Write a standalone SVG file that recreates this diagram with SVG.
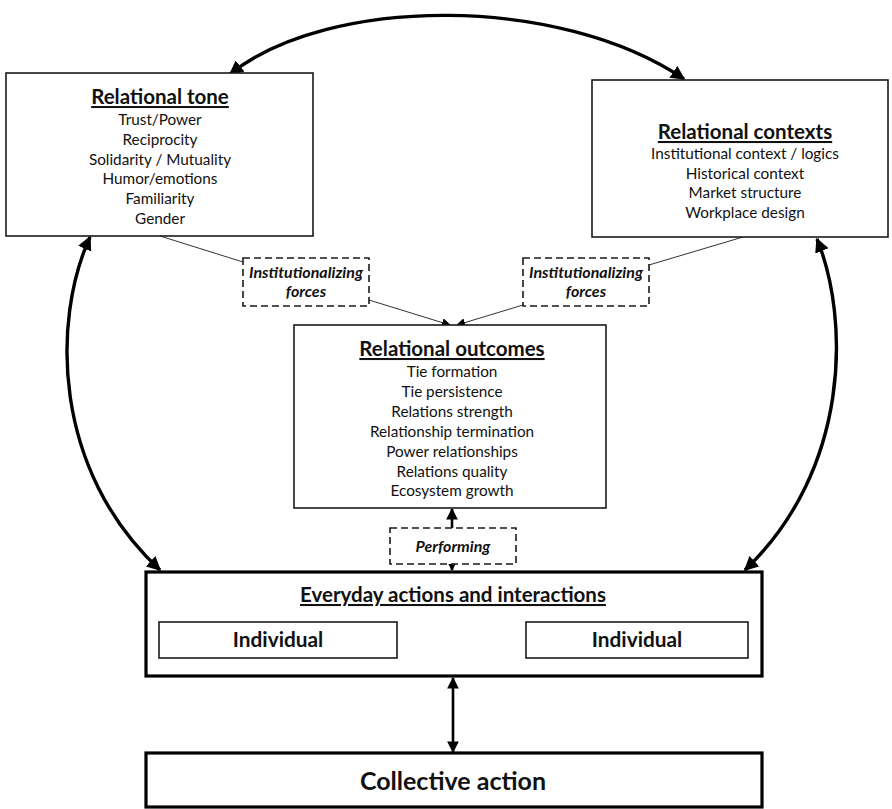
<svg xmlns="http://www.w3.org/2000/svg" width="892" height="809" viewBox="0 0 892 809">
<defs>
<style>
.box{fill:#fff;stroke:#1a1a1a;stroke-width:1.6}
.thick{fill:#fff;stroke:#000;stroke-width:3.2}
.dash{fill:#fff;stroke:#1a1a1a;stroke-width:1.6;stroke-dasharray:7 4}
text{font-family:Lato,"Liberation Sans",sans-serif;fill:#111;text-anchor:middle}
.t{font-size:20.5px;font-weight:bold;text-decoration:underline}
.b{font-size:15.3px}
.i{font-size:16px;font-weight:bold;font-style:italic}
.ind{font-size:20.8px;font-weight:bold}
.big{fill:none;stroke:#000;stroke-width:3.4}
.thin{fill:none;stroke:#333;stroke-width:1}
.med{fill:none;stroke:#000;stroke-width:2.6}
</style>
<marker id="ah" viewBox="0 0 10 10" refX="9" refY="5" markerWidth="4.2" markerHeight="4.2" orient="auto-start-reverse" markerUnits="strokeWidth"><path d="M0,0L10,5L0,10z" fill="#000"/></marker>
<marker id="am" viewBox="0 0 10 10" refX="9" refY="5" markerWidth="4.5" markerHeight="4.5" orient="auto-start-reverse" markerUnits="strokeWidth"><path d="M0,0L10,5L0,10z" fill="#000"/></marker>
<marker id="as" viewBox="0 0 10 10" refX="9" refY="5" markerWidth="9" markerHeight="9" orient="auto-start-reverse" markerUnits="strokeWidth"><path d="M0,0L10,5L0,10z" fill="#000"/></marker>
</defs>

<g id="connectors">
<path class="big" d="M230,74 C330,-5 560,-5 684,79" marker-start="url(#ah)" marker-end="url(#ah)"/>
<path class="big" d="M90,237 C52,320 52,470 160,570" marker-start="url(#ah)" marker-end="url(#ah)"/>
<path class="big" d="M817,239 C850,320 850,470 745,570" marker-start="url(#ah)" marker-end="url(#ah)"/>
<path class="thin" d="M160,236 L243,262"/>
<path class="thin" d="M743,237 L649,265"/>
<path class="thin" d="M369,300 L450,325" marker-end="url(#as)"/>
<path class="thin" d="M523,305 L457,325" marker-end="url(#as)"/>
<path class="med" d="M452,528 L452,509" marker-end="url(#am)"/>
<path class="med" d="M452,563 L452,570" marker-end="url(#am)"/>
<path class="med" d="M453,678 L453,752" marker-start="url(#am)" marker-end="url(#am)"/>
<path class="thin" d="M398,640 L525,640" marker-start="url(#as)" marker-end="url(#as)"/>
</g>

<g id="relational-tone">
<rect class="box" x="6" y="73" width="307" height="163"/>
<text class="t" x="160" y="104">Relational tone</text>
<text class="b" x="160" y="125">Trust/Power</text>
<text class="b" x="160" y="145">Reciprocity</text>
<text class="b" x="160" y="165">Solidarity / Mutuality</text>
<text class="b" x="160" y="184">Humor/emotions</text>
<text class="b" x="160" y="204">Familiarity</text>
<text class="b" x="160" y="224">Gender</text>
</g>

<g id="relational-contexts">
<rect class="box" x="592" y="80" width="296" height="157"/>
<text class="t" x="745" y="139">Relational contexts</text>
<text class="b" x="745" y="159">Institutional context / logics</text>
<text class="b" x="745" y="179">Historical context</text>
<text class="b" x="745" y="198">Market structure</text>
<text class="b" x="745" y="218">Workplace design</text>
</g>

<g id="inst-forces-left">
<rect class="dash" x="243" y="258" width="126" height="48"/>
<text class="i" x="306" y="278">Institutionalizing</text>
<text class="i" x="306" y="297">forces</text>
</g>

<g id="inst-forces-right">
<rect class="dash" x="523" y="258" width="126" height="48"/>
<text class="i" x="586" y="278">Institutionalizing</text>
<text class="i" x="586" y="297">forces</text>
</g>

<g id="relational-outcomes">
<rect class="box" x="294" y="325" width="312" height="183"/>
<text class="t" x="452" y="356">Relational outcomes</text>
<text class="b" x="452" y="377">Tie formation</text>
<text class="b" x="452" y="397">Tie persistence</text>
<text class="b" x="452" y="417">Relations strength</text>
<text class="b" x="452" y="437">Relationship termination</text>
<text class="b" x="452" y="457">Power relationships</text>
<text class="b" x="452" y="477">Relations quality</text>
<text class="b" x="452" y="496">Ecosystem growth</text>
</g>

<g id="performing">
<rect class="dash" x="390" y="528" width="126" height="36"/>
<text class="i" x="453" y="552">Performing</text>
</g>

<g id="everyday">
<rect class="thick" x="146" y="572" width="616" height="104"/>
<text class="t" x="453" y="602">Everyday actions and interactions</text>
</g>

<g id="individual-left">
<rect class="box" x="159" y="622" width="238" height="36"/>
<text class="ind" x="278" y="647">Individual</text>
</g>

<g id="individual-right">
<rect class="box" x="526" y="622" width="222" height="36"/>
<text class="ind" x="637" y="647">Individual</text>
</g>

<g id="collective-action">
<rect class="thick" x="146" y="753" width="616" height="54"/>
<text class="ind" x="453" y="790" style="font-size:25px">Collective action</text>
</g>
</svg>
